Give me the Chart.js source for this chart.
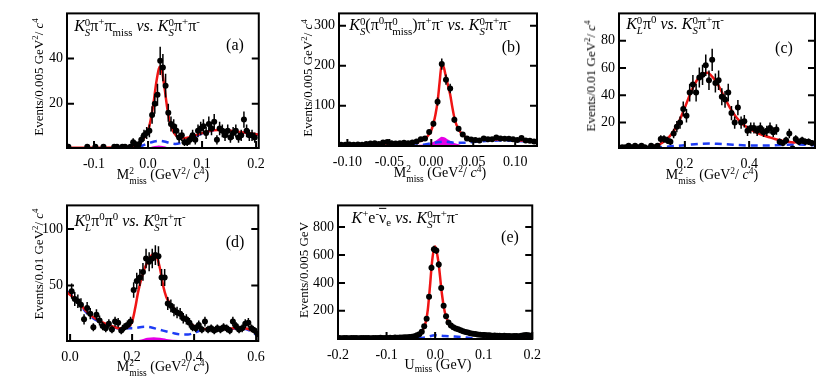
<!DOCTYPE html>
<html>
<head>
<meta charset="utf-8">
<script src="https://cdn.jsdelivr.net/npm/chart.js@4/dist/chart.umd.min.js"></script>
<style>
  body { margin: 0; width: 830px; height: 384px; background: #fff; position: relative; overflow: hidden; }
  canvas { position: absolute; }
  .t { position: absolute; white-space: nowrap; color: #000; font-family: "Liberation Serif", "Times New Roman", serif; line-height: 1; transform: translate(-50%, -50%); }
  .rot { transform: translate(-50%, -50%) rotate(-90deg); }
  .st { display: inline-flex; flex-direction: column; font-size: 0.68em; line-height: 1; vertical-align: 0.5em; }
  .sp { font-size: 0.68em; vertical-align: 0.55em; }
  .sb { font-size: 0.68em; vertical-align: -0.3em; }
  .ann { font-size: 16px; }
  .tag { font-size: 16px; }
  .ax { font-size: 14px; }
  .ay { font-size: 13px; }
  .ov { text-decoration: overline; }
</style>
</head>
<body>
<canvas id="pa"></canvas>
<canvas id="pb"></canvas>
<canvas id="pc"></canvas>
<canvas id="pd"></canvas>
<canvas id="pe"></canvas>

<!-- panel labels -->
<div class="t ann" style="left:137px;top:27px"><i>K</i><span class="st"><span>0</span><i>S</i></span>π<span class="sp">+</span>π<span class="st"><span>-</span><span>miss</span></span> <i>vs.</i> <i>K</i><span class="st"><span>0</span><i>S</i></span>π<span class="sp">+</span>π<span class="sp">-</span></div>
<div class="t tag" style="left:235px;top:45px">(a)</div>
<div class="t ann" style="left:430px;top:26px"><i>K</i><span class="st"><span>0</span><i>S</i></span>(π<span class="sp">0</span>π<span class="st"><span>0</span><span>miss</span></span>)π<span class="sp">+</span>π<span class="sp">-</span> <i>vs.</i> <i>K</i><span class="st"><span>0</span><i>S</i></span>π<span class="sp">+</span>π<span class="sp">-</span></div>
<div class="t tag" style="left:511px;top:47px">(b)</div>
<div class="t ann" style="left:675px;top:25px"><i>K</i><span class="st"><span>0</span><i>L</i></span>π<span class="sp">0</span> <i>vs.</i> <i>K</i><span class="st"><span>0</span><i>S</i></span>π<span class="sp">+</span>π<span class="sp">-</span></div>
<div class="t tag" style="left:784px;top:48px">(c)</div>
<div class="t ann" style="left:130px;top:222px"><i>K</i><span class="st"><span>0</span><i>L</i></span>π<span class="sp">0</span>π<span class="sp">0</span> <i>vs.</i> <i>K</i><span class="st"><span>0</span><i>S</i></span>π<span class="sp">+</span>π<span class="sp">-</span></div>
<div class="t tag" style="left:235px;top:242px">(d)</div>
<div class="t ann" style="left:405px;top:219px"><i>K</i><span class="sp">+</span>e<span class="sp">-</span><span class="ov">ν</span><span class="sb">e</span> <i>vs.</i> <i>K</i><span class="st"><span>0</span><i>S</i></span>π<span class="sp">+</span>π<span class="sp">-</span></div>
<div class="t tag" style="left:510px;top:237px">(e)</div>

<!-- axis titles -->
<div class="t ax" style="left:163px;top:177px">M<span class="st"><span>2</span><span>miss</span></span> (GeV<span class="sp">2</span>/ <i>c</i><span class="sp">4</span>)</div>
<div class="t ax" style="left:440px;top:175px">M<span class="st"><span>2</span><span>miss</span></span> (GeV<span class="sp">2</span>/ <i>c</i><span class="sp">4</span>)</div>
<div class="t ax" style="left:712px;top:177px">M<span class="st"><span>2</span><span>miss</span></span> (GeV<span class="sp">2</span>/ <i>c</i><span class="sp">4</span>)</div>
<div class="t ax" style="left:163px;top:369px">M<span class="st"><span>2</span><span>miss</span></span> (GeV<span class="sp">2</span>/ <i>c</i><span class="sp">4</span>)</div>
<div class="t ax" style="left:438px;top:366px">U<span class="sb">miss</span> (GeV)</div>
<div class="t ay rot" style="left:38px;top:77px">Events/0.005 GeV<span class="sp">2</span>/ <i>c</i><span class="sp">4</span></div>
<div class="t ay rot" style="left:307px;top:78px">Events/0.005 GeV<span class="sp">2</span>/ <i>c</i><span class="sp">4</span></div>
<div class="t ay rot" style="left:590px;top:76px">Events/0.01 GeV<span class="sp">2</span>/ <i>c</i><span class="sp">4</span></div>
<div class="t ay rot" style="left:38px;top:264px">Events/0.01 GeV<span class="sp">2</span>/ <i>c</i><span class="sp">4</span></div>
<div class="t ay rot" style="left:303px;top:270px">Events/0.005 GeV</div>

<script>
// ===============================
// DATA
// ===============================
// (a) KS pi+ pi-miss
const aX = [-0.1475,-0.1125,-0.0975,-0.0825,-0.0625,-0.0575,-0.0475,-0.0425,-0.0325,-0.0275,-0.0225,-0.0175,-0.0125,-0.0075,-0.0025,
  0.0025,0.0075,0.0125,0.0175,0.0225,0.0275,0.0325,0.0375,0.0425,0.0475,0.0525,0.0575,0.0625,0.0675,0.0725,0.0775,0.0825,0.0875,0.0925,0.0975,
  0.1025,0.1075,0.1125,0.1175,0.1225,0.1275,0.1325,0.1375,0.1425,0.1475,0.1525,0.1575,0.1625,0.1675,0.1725,0.1775,0.1825,0.1875,0.1925,0.1975];
const aY = [1,1,1,1,1,1,1,1,1,3,2,2,4,6,7,
  8,15,20,24,39,36,28,16,11,10,8,5,6,3,3,4,6,4,8,9,
  10,7,11,9,12,4,9,8,6,8,5,7,8,5,6,13,8,6,6,5];
const aFitX = [-0.15,-0.1,-0.05,-0.03,-0.02,-0.01,0,0.005,0.01,0.015,0.02,0.0225,0.025,0.03,0.035,0.04,0.045,0.05,0.055,0.06,0.065,0.07,0.08,0.09,0.1,0.11,0.12,0.13,0.14,0.15,0.16,0.17,0.18,0.19,0.205];
const aFitY = [0.5,0.5,0.7,1.2,2,4,8,13,20,29,35.5,36.5,35.5,28,19,12,8.5,6.5,5.3,4.8,4.7,4.8,5.3,6.2,7.0,7.7,8.2,8.4,8.3,8.1,7.8,7.5,7.2,6.8,6.4];
const aBkgX = [-0.15,-0.05,-0.03,-0.02,-0.01,0,0.01,0.02,0.03,0.04,0.05,0.06,0.07,0.08,0.09,0.1,0.11,0.12,0.13,0.14,0.15,0.16,0.17,0.18,0.19,0.205];
const aBkgY = [0,0,0.2,0.6,1.5,2.5,3.2,3.6,3.3,2.6,2.2,2.6,3.5,4.6,5.8,6.8,7.6,8.1,8.3,8.2,8.0,7.7,7.4,7.1,6.7,6.3];
const aPkX = [-0.01,0,0.01,0.02,0.03,0.04,0.05];
const aPkY = [0,0.3,0.8,1.2,0.8,0.3,0];
const aXTicks = [-0.1, 0, 0.1, 0.2];
const aYTicks = [20, 40];

// (b) KS(pi0 pi0miss) pi+ pi-
const bX = [-0.1075,-0.1025,-0.0975,-0.0925,-0.0875,-0.0825,-0.0775,-0.0725,-0.0675,-0.0625,
  -0.0575,-0.0525,-0.0475,-0.0425,-0.0375,-0.0325,-0.0275,-0.0225,-0.0175,-0.0125,
  -0.0075,-0.0025,0.0025,0.0075,0.0125,0.0175,0.0225,0.0275,0.0325,0.0375,
  0.0425,0.0475,0.0525,0.0575,0.0625,0.0675,0.0725,0.0775,0.0825,0.0875,
  0.0925,0.0975,0.1025,0.1075,0.1125,0.1175,0.1225];
const bY = [2,2,3,2,3,2,4,5,6,4,
  8,9,6,5,6,7,6,8,10,16,
  18,34,55,110,204,165,143,65,42,28,
  18,15,14,13,18,16,16,20,18,17,
  17,16,14,19,13,12,10];
const bFitX = [-0.11,-0.08,-0.06,-0.04,-0.03,-0.02,-0.01,-0.005,0,0.0025,0.005,0.0075,0.01,0.0125,0.015,0.0175,0.02,0.0225,0.025,0.0275,0.03,0.035,0.04,0.045,0.05,0.06,0.07,0.08,0.09,0.1,0.11,0.126];
const bFitY = [2,3,5,6,7,9,14,22,38,55,78,110,160,205,195,172,150,128,97,70,52,33,23,18,16,15,15,15.5,15,14,12.5,10];
const bBkgX = [-0.11,-0.02,-0.01,0,0.01,0.015,0.02,0.03,0.04,0.05,0.06,0.07,0.08,0.09,0.1,0.11,0.126];
const bBkgY = [0,0,2,6,9,10,9,7,7,9,11,12,12.5,12.5,12,11,9];
const bPkX = [-0.015,-0.005,0,0.005,0.01,0.0125,0.015,0.02,0.025,0.03,0.035];
const bPkY = [0,2,5,10,17,20,19,13,7,3,0];
const bXTicks = [-0.1, -0.05, 0, 0.05, 0.1];
const bYTicks = [100, 200, 300];

// (c) KL pi0
const cX = [0.005,0.015,0.025,0.035,0.045,0.055,0.065,0.075,0.085,0.095,0.105,0.115,
  0.125,0.135,0.145,0.155,0.165,0.175,0.185,0.195,0.205,0.215,0.225,0.235,
  0.245,0.255,0.265,0.275,0.285,0.295,0.305,0.315,0.325,0.335,0.345,0.355,
  0.365,0.375,0.385,0.395,0.405,0.415,0.425,0.435,0.445,0.455,0.465,0.475,
  0.485,0.495,0.505,0.515,0.525,0.535,0.545,0.555,0.565,0.575,0.585,0.595];
const cY = [2,2,3,2,3,2,3,2,1,3,2,3,
  8,8,7,6,12,17,20,30,25,42,48,42,
  53,55,62,51,66,49,51,39,37,42,27,20,
  31,20,21,14,16,16,14,16,13,14,16,13,
  15,6,5,7,12,1,8,6,7,6,6,5];
const cFitX = [-0.005,0.05,0.1,0.12,0.14,0.16,0.18,0.2,0.22,0.24,0.26,0.27,0.28,0.3,0.32,0.34,0.36,0.38,0.4,0.42,0.44,0.46,0.48,0.5,0.52,0.54,0.56,0.58,0.605];
const cFitY = [1,1.5,2.5,4,7,12,20,31,43,52,56,56.5,55,49,40,31,24,19,15.5,13,11,9.5,8,7,6,5.5,6,5.5,4.5];
const cBkgX = [-0.005,0.05,0.1,0.15,0.2,0.25,0.28,0.3,0.35,0.4,0.45,0.5,0.55,0.605];
const cBkgY = [0.5,0.8,1.5,2.5,3.5,4.5,4.7,4.5,3.8,3.2,3.2,3.6,3.9,3.5];
const cPkX = [0.18,0.2,0.25,0.3,0.35,0.38];
const cPkY = [0,1,1.2,1.1,0.9,0];
const cXTicks = [0.2, 0.4];
const cYTicks = [20, 40, 60, 80];

// (d) KL pi0 pi0
const dX = [0.005,0.015,0.025,0.035,0.045,0.055,0.065,0.075,0.085,0.095,0.105,
  0.115,0.125,0.135,0.145,0.155,0.165,0.175,0.185,0.195,0.205,0.215,
  0.225,0.235,0.245,0.255,0.265,0.275,0.285,0.295,0.305,0.315,0.325,
  0.335,0.345,0.355,0.365,0.375,0.385,0.395,0.405,0.415,0.425,0.435,
  0.445,0.455,0.465,0.475,0.485,0.495,0.505,0.515,0.525,0.535,0.545,
  0.555,0.565,0.575,0.585,0.595,0.605];
const dY = [45,38,36,33,20,30,25,13,24,19,14,
  12,16,11,18,17,10,13,15,18,46,54,
  57,62,74,71,74,77,76,57,57,34,32,
  28,26,25,21,20,17,13,12,15,11,18,
  11,12,10,12,11,13,12,10,18,14,11,
  12,16,17,12,10,7];
const dFitX = [-0.01,0.02,0.04,0.06,0.08,0.1,0.12,0.14,0.16,0.18,0.2,0.21,0.22,0.24,0.26,0.27,0.28,0.29,0.3,0.31,0.32,0.34,0.36,0.38,0.4,0.42,0.45,0.5,0.55,0.58,0.607];
const dFitY = [44,37,31,25,21,18,15.5,13.5,12,12.5,18,30,45,65,76,78,75,65,50,40,35,28,23,18,14,12,11,11.5,12.5,11,7];
const dBkgX = [-0.01,0.02,0.04,0.06,0.08,0.1,0.12,0.14,0.16,0.18,0.2,0.24,0.26,0.28,0.3,0.33,0.36,0.38,0.4,0.42,0.45,0.5,0.55,0.58,0.607];
const dBkgY = [45,37,30,24,20,17,15,13,12,12,12,13.5,13,11.5,10,8,6.5,6.5,8,10,11,11.5,12,10,5];
const dPkX = [0.2,0.23,0.25,0.27,0.29,0.31,0.35,0.4,0.5,0.58,0.6];
const dPkY = [0,1.5,3,3.5,3,2,1,0.8,0.8,0.8,0];
const dXTicks = [0, 0.2, 0.4, 0.6];
const dYTicks = [50, 100];

// (e) K+ e- nubar
const eX = [-0.1975,-0.1925,-0.1875,-0.1825,-0.1775,-0.1725,-0.1675,-0.1625,-0.1575,-0.1525,
  -0.1475,-0.1425,-0.1375,-0.1325,-0.1275,-0.1225,-0.1175,-0.1125,-0.1075,-0.1025,
  -0.0975,-0.0925,-0.0875,-0.0825,-0.0775,-0.0725,-0.0675,-0.0625,-0.0575,-0.0525,
  -0.0475,-0.0425,-0.0375,-0.0325,-0.0275,-0.0225,-0.0175,-0.0125,-0.0075,-0.0025,
  0.0025,0.0075,0.0125,0.0175,0.0225,0.0275,0.0325,0.0375,0.0425,0.0475,
  0.0525,0.0575,0.0625,0.0675,0.0725,0.0775,0.0825,0.0875,0.0925,0.0975,
  0.1025,0.1075,0.1125,0.1175,0.1225,0.1275,0.1325,0.1375,0.1425,0.1475,
  0.1525,0.1575,0.1625,0.1675,0.1725,0.1775,0.1825,0.1875,0.1925,0.1975];
const eY = [5,4,6,5,4,5,6,5,4,6,
  5,5,6,4,5,6,5,7,5,6,
  6,7,6,8,7,8,9,10,10,12,
  15,18,25,32,50,90,143,300,509,640,
  632,531,363,236,161,116,94,83,74,67,
  60,54,48,45,40,36,33,30,28,27,
  26,25,24,22,23,21,22,20,21,19,
  20,18,19,20,18,22,25,27,24,22];
const eFitX = [-0.2,-0.1,-0.06,-0.05,-0.04,-0.035,-0.03,-0.025,-0.02,-0.0175,-0.015,-0.0125,-0.01,-0.0075,-0.005,-0.0025,0,0.0025,0.005,0.0075,0.01,0.0125,0.015,0.0175,0.02,0.0225,0.025,0.03,0.04,0.05,0.06,0.07,0.08,0.09,0.1,0.15,0.2];
const eFitY = [5,5,8,12,18,25,40,65,110,150,210,300,400,510,590,640,660,635,590,530,450,365,295,235,190,160,135,105,78,63,52,43,35,30,26,20,18];
const eBkgX = [-0.06,-0.04,-0.02,0,0.02,0.04,0.06,0.075,0.08];
const eBkgY = [0,3,10,25,20,16,10,3,0];
const eXTicks = [-0.2, -0.1, 0, 0.1, 0.2];
const eYTicks = [200, 400, 600, 800];

// ===============================
// PLUGINS
// ===============================
// frame + inward ROOT style ticks
const framePlugin = {
  id: 'frame',
  afterDraw(chart, args, opts) {
    const { ctx, chartArea: a, scales } = chart;
    ctx.save();
    ctx.strokeStyle = '#000';
    ctx.lineWidth = 2;
    ctx.beginPath();
    opts.yTicks.forEach(v => {
      const y = scales.y.getPixelForValue(v);
      ctx.moveTo(a.left, y); ctx.lineTo(a.left + 7, y);
      ctx.moveTo(a.right, y); ctx.lineTo(a.right - 7, y);
    });
    opts.xTicks.forEach(v => {
      const x = scales.x.getPixelForValue(v);
      ctx.moveTo(x, a.bottom); ctx.lineTo(x, a.bottom - 7);
    });
    ctx.stroke();
    ctx.strokeRect(a.left, a.top, a.right - a.left, a.bottom - a.top);
    ctx.restore();
  }
};

// sqrt(N) vertical error bars on the data points
const errorBars = {
  id: 'errorBars',
  afterDatasetsDraw(chart) {
    const { ctx, chartArea: a, scales: { x, y } } = chart;
    ctx.save();
    ctx.beginPath();
    ctx.rect(a.left, a.top, a.right - a.left, a.bottom - a.top);
    ctx.clip();
    ctx.strokeStyle = '#000';
    ctx.lineWidth = 1.5;
    chart.data.datasets.forEach(ds => {
      if (!ds.errBars) return;
      ds.data.forEach(p => {
        const e = Math.sqrt(p.y);
        const px = x.getPixelForValue(p.x);
        ctx.beginPath();
        ctx.moveTo(px, y.getPixelForValue(p.y - e));
        ctx.lineTo(px, y.getPixelForValue(p.y + e));
        ctx.stroke();
      });
    });
    ctx.restore();
  }
};

const zip = (xs, ys) => xs.map((x, i) => ({ x, y: ys[i] }));
const FONT = { family: '"Liberation Serif", "Times New Roman", serif', size: 14 };
const LEFT = 60, TOP = 4, RIGHT = 12, BOTTOM = 28;

function makePanel(p) {
  const cv = document.getElementById(p.id);
  cv.width = p.frame.w + LEFT + RIGHT;
  cv.height = p.frame.h + TOP + BOTTOM;
  cv.style.left = (p.frame.l - LEFT) + 'px';
  cv.style.top = (p.frame.t - TOP) + 'px';

  const datasets = [
    { label: 'data', data: zip(p.x, p.y), errBars: true, order: 0,
      pointRadius: 3, pointBackgroundColor: '#000', pointBorderWidth: 0, showLine: false },
    { label: 'fit', data: zip(p.fitX, p.fitY), order: 1, showLine: true, pointRadius: 0,
      borderColor: '#f01414', borderWidth: 2.5, cubicInterpolationMode: 'monotone' },
    { label: 'bkg', data: zip(p.bkgX, p.bkgY), order: 2, showLine: true, pointRadius: 0,
      borderColor: '#1e3cf5', borderWidth: 2.5, borderDash: [7, 5], cubicInterpolationMode: 'monotone' }
  ];
  if (p.pkX) {
    datasets.push({ label: 'peaking', data: zip(p.pkX, p.pkY), order: 3, showLine: true, pointRadius: 0,
      borderColor: '#e600e6', borderWidth: 1.5, backgroundColor: '#e600e6', fill: 'origin',
      cubicInterpolationMode: 'monotone' });
  }

  new Chart(cv, {
    type: 'scatter',
    data: { datasets },
    plugins: [framePlugin, errorBars],
    options: {
      responsive: false,
      animation: false,
      devicePixelRatio: 1,
      layout: { autoPadding: false, padding: { left: 0, top: TOP, right: RIGHT, bottom: 0 } },
      plugins: {
        legend: { display: false },
        tooltip: { enabled: false },
        frame: { xTicks: p.xTicks, yTicks: p.yTicks }
      },
      scales: {
        x: {
          min: p.xMin, max: p.xMax,
          grid: { display: false, drawTicks: false },
          border: { display: false },
          afterBuildTicks: s => { s.ticks = p.xTicks.map(v => ({ value: v })); },
          afterFit: s => { s.height = BOTTOM; },
          ticks: { font: FONT, color: '#000', padding: 8, autoSkip: false, maxRotation: 0,
            callback: v => v.toFixed(p.xDec) }
        },
        y: {
          min: p.yMin, max: p.yMax,
          grid: { display: false, drawTicks: false },
          border: { display: false },
          afterBuildTicks: s => { s.ticks = p.yTicks.map(v => ({ value: v })); },
          afterFit: s => { s.width = LEFT; },
          ticks: { font: FONT, color: '#000', padding: 4, callback: v => String(v) }
        }
      }
    }
  });
}

makePanel({ id: 'pa', frame: { l: 67, t: 5, w: 194, h: 143 }, xMin: -0.15, xMax: 0.205, yMin: 0.4, yMax: 60, xDec: 1,
  x: aX, y: aY, fitX: aFitX, fitY: aFitY, bkgX: aBkgX, bkgY: aBkgY, pkX: aPkX, pkY: aPkY, xTicks: aXTicks, yTicks: aYTicks });
makePanel({ id: 'pb', frame: { l: 339, t: 5, w: 198, h: 141 }, xMin: -0.11, xMax: 0.126, yMin: -1, yMax: 331, xDec: 2,
  x: bX, y: bY, fitX: bFitX, fitY: bFitY, bkgX: bBkgX, bkgY: bBkgY, pkX: bPkX, pkY: bPkY, xTicks: bXTicks, yTicks: bYTicks });
makePanel({ id: 'pc', frame: { l: 619, t: 5, w: 196, h: 143 }, xMin: -0.005, xMax: 0.605, yMin: 1.4, yMax: 100, xDec: 1,
  x: cX, y: cY, fitX: cFitX, fitY: cFitY, bkgX: cBkgX, bkgY: cBkgY, pkX: cPkX, pkY: cPkY, xTicks: cXTicks, yTicks: cYTicks });
makePanel({ id: 'pd', frame: { l: 67, t: 197, w: 194, h: 144 }, xMin: -0.01, xMax: 0.607, yMin: 0.8, yMax: 121, xDec: 1,
  x: dX, y: dY, fitX: dFitX, fitY: dFitY, bkgX: dBkgX, bkgY: dBkgY, pkX: dPkX, pkY: dPkY, xTicks: dXTicks, yTicks: dYTicks });
makePanel({ id: 'pe', frame: { l: 338, t: 197, w: 199, h: 142 }, xMin: -0.2, xMax: 0.2, yMin: -2, yMax: 955, xDec: 1,
  x: eX, y: eY, fitX: eFitX, fitY: eFitY, bkgX: eBkgX, bkgY: eBkgY, xTicks: eXTicks, yTicks: eYTicks });
</script>
</body>
</html>
